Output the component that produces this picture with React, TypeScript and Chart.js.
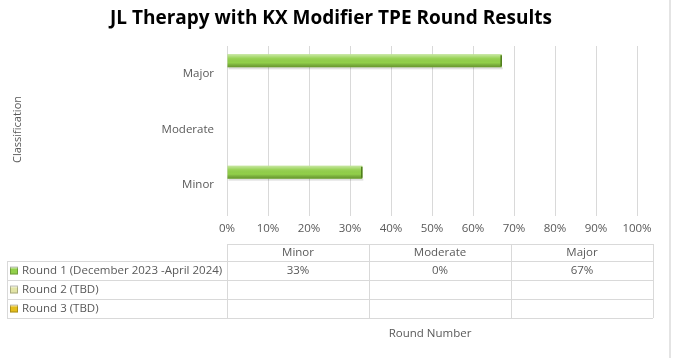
import React, { useEffect, useRef } from "react";
import { Chart, registerables } from "chart.js";

Chart.register(...registerables);

const title = "JL Therapy with KX Modifier TPE Round Results";
const categories = ["Major", "Moderate", "Minor"];
const tableColumns = ["Minor", "Moderate", "Major"];
const round1 = [0.67, 0, 0.33];
const round2: (number | null)[] = [null, null, null];
const round3: (number | null)[] = [null, null, null];
const seriesNames = ["Round 1 (December 2023 -April 2024)", "Round 2 (TBD)", "Round 3 (TBD)"];
const seriesColors = ["#92d04a", "#e2e4a6", "#e3bd1c"];
const xTicks = [0, 0.1, 0.2, 0.3, 0.4, 0.5, 0.6, 0.7, 0.8, 0.9, 1];
const xAxisTitle = "Round Number";
const yAxisTitle = "Classification";

const FONT = "'Open Sans', 'DejaVu Sans', sans-serif";
const TEXT = "#595959";
const GRID = "#d9d9d9";
const FS = 11.5;

const fmtPct = (v: number | null) => (v === null ? "" : Math.round(v * 100) + "%");

const barShine = {
  id: "barShine",
  afterDatasetsDraw(chart: any) {
    const ctx = chart.ctx;
    chart.data.datasets.forEach((_: any, di: number) => {
      const meta = chart.getDatasetMeta(di);
      meta.data.forEach((el: any) => {
        const { x, y, base, height } = el.getProps(["x", "y", "base", "height"], true);
        if (x === undefined || Math.abs(x - base) < 2) return;
        const top = y - height / 2;
        const g = ctx.createLinearGradient(0, top, 0, top + height);
        g.addColorStop(0, "rgba(255,255,255,0.5)");
        g.addColorStop(0.3, "rgba(255,255,255,0.08)");
        g.addColorStop(0.65, "rgba(0,0,0,0)");
        g.addColorStop(1, "rgba(40,70,0,0.4)");
        ctx.save();
        ctx.fillStyle = "rgba(0,0,0,0.12)";
        ctx.fillRect(base + 1, top + height, x - base, 2);
        ctx.fillStyle = g;
        ctx.fillRect(base, top, x - base, height);
        ctx.strokeStyle = "#4d7a1a";
        ctx.lineWidth = 1.5;
        ctx.beginPath();
        ctx.moveTo(x - 0.5, top + 1);
        ctx.lineTo(x - 0.5, top + height - 1);
        ctx.stroke();
        ctx.restore();
      });
    });
  },
};

const dataTable = {
  id: "dataTable",
  afterDraw(chart: any) {
    const ctx = chart.ctx;
    const area = chart.chartArea;
    const left = area.left;
    const right = 653;
    const outerLeft = 7;
    const rowTops = [244, 261, 280, 299, 318];
    const colW = (right - left) / tableColumns.length;
    const rows = [round1, round2, round3];
    const idx = tableColumns.map((c) => categories.indexOf(c));
    ctx.save();
    // title
    ctx.font = `bold 19px ${FONT}`;
    ctx.fillStyle = "#000000";
    ctx.textAlign = "center";
    ctx.textBaseline = "middle";
    ctx.fillText(title, 331, 19);

    ctx.strokeStyle = GRID;
    ctx.lineWidth = 1;
    const hl = (x1: number, x2: number, y: number) => {
      ctx.beginPath();
      ctx.moveTo(x1, y + 0.5);
      ctx.lineTo(x2, y + 0.5);
      ctx.stroke();
    };
    const vl = (x: number, y1: number, y2: number) => {
      ctx.beginPath();
      ctx.moveTo(Math.round(x) + 0.5, y1);
      ctx.lineTo(Math.round(x) + 0.5, y2);
      ctx.stroke();
    };
    hl(left, right, rowTops[0]);
    for (let i = 1; i < rowTops.length; i++) hl(outerLeft, right, rowTops[i]);
    vl(outerLeft, rowTops[1], rowTops[4]);
    for (let c = 0; c <= tableColumns.length; c++) vl(left + c * colW, rowTops[0], rowTops[4]);

    ctx.font = `${FS}px ${FONT}`;
    ctx.fillStyle = TEXT;
    ctx.textBaseline = "middle";
    ctx.textAlign = "center";
    tableColumns.forEach((c, i) => {
      ctx.fillText(c, left + colW * (i + 0.5), (rowTops[0] + rowTops[1]) / 2);
    });
    rows.forEach((r, ri) => {
      const cy = (rowTops[ri + 1] + rowTops[ri + 2]) / 2;
      const kx = 10, ks = 8;
      const g = ctx.createLinearGradient(0, cy - ks / 2, 0, cy + ks / 2);
      g.addColorStop(0, "#ffffff");
      g.addColorStop(0.35, seriesColors[ri]);
      g.addColorStop(1, seriesColors[ri]);
      ctx.fillStyle = g;
      ctx.fillRect(kx, cy - ks / 2, ks, ks);
      ctx.strokeStyle = "rgba(0,0,0,0.25)";
      ctx.strokeRect(kx + 0.5, cy - ks / 2 + 0.5, ks - 1, ks - 1);
      ctx.fillStyle = TEXT;
      ctx.textAlign = "left";
      ctx.fillText(seriesNames[ri], 22, cy);
      ctx.textAlign = "center";
      idx.forEach((di, ci) => {
        ctx.fillText(fmtPct(r[di]), left + colW * (ci + 0.5), cy);
      });
    });
    ctx.textAlign = "center";
    ctx.fillText(xAxisTitle, 430, 334);
    ctx.fillStyle = "#e4e4e4";
    ctx.fillRect(669, 0, 2, chart.height);
    ctx.restore();
  },
};

export default function App() {
  const ref = useRef<HTMLCanvasElement>(null);
  useEffect(() => {
    document.body.style.margin = "0";
    const chart = new Chart(ref.current!, {
      type: "bar",
      data: {
        labels: categories,
        datasets: [
          { label: seriesNames[0], data: round1, backgroundColor: seriesColors[0], borderWidth: 0 },
          { label: seriesNames[1], data: round2 as any, backgroundColor: seriesColors[1] },
          { label: seriesNames[2], data: round3 as any, backgroundColor: seriesColors[2] },
        ],
      },
      options: {
        indexAxis: "y",
        responsive: false,
        animation: false,
        maintainAspectRatio: false,
        layout: { padding: { left: 0, right: 38, top: 46, bottom: 0 } },
        datasets: { bar: { categoryPercentage: 0.7, barPercentage: 1.0 } },
        plugins: {
          legend: { display: false },
          tooltip: { enabled: false },
          title: { display: false },
        },
        scales: {
          x: {
            min: 0,
            max: 1,
            afterBuildTicks: (s: any) => {
              s.ticks = xTicks.map((v) => ({ value: v }));
            },
            afterFit: (s: any) => {
              s.height = 145;
            },
            ticks: {
              color: TEXT,
              font: { family: FONT, size: FS },
              padding: 6,
              callback: (v: any) => fmtPct(Number(v)),
            },
            grid: { color: GRID, tickLength: 3, drawTicks: true },
            border: { display: false },
          },
          y: {
            afterFit: (s: any) => {
              s.width = 227;
            },
            ticks: { color: TEXT, font: { family: FONT, size: FS }, padding: 13 },
            grid: { display: false, drawTicks: false },
            border: { display: true, color: GRID },
            title: {
              display: true,
              text: yAxisTitle,
              color: TEXT,
              font: { family: FONT, size: 11 },
              padding: { top: 11, bottom: 0 },
            },
          },
        },
      },
      plugins: [barShine, dataTable],
    } as any);
    return () => chart.destroy();
  }, []);
  return <canvas ref={ref} width={675} height={358} style={{ display: "block" }} />;
}
